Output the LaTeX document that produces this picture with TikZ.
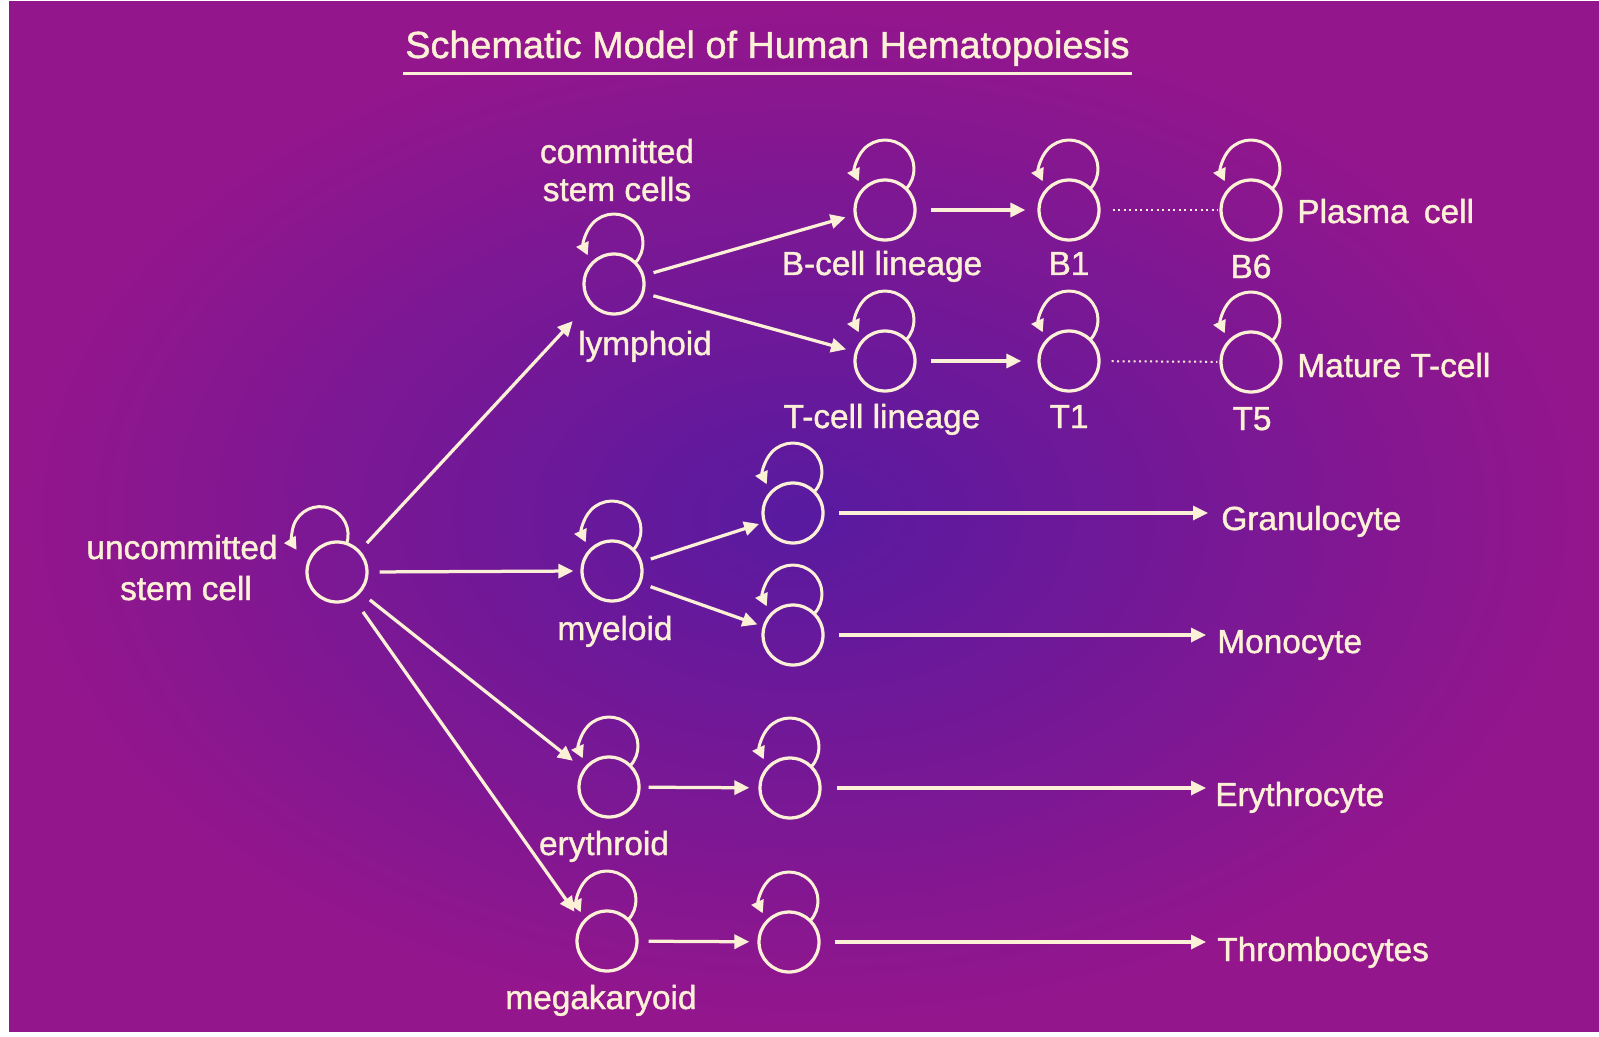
\documentclass[tikz,border=0pt]{standalone}
\usepackage{fontspec}
\setmainfont{Liberation Sans}[FakeBold=1.2]
\usetikzlibrary{arrows.meta,calc}
\definecolor{ink}{RGB}{252,240,214}
\definecolor{bgmag}{RGB}{148,22,140}
\definecolor{bgvio}{RGB}{88,26,160}
\newcommand{\mkcell}[3]{%
  \node[cellc] (#1) at (#2,-#3) {};
  \draw[loopln] (#1.center) ++(21.2,21.2) arc[start angle=-43,end angle=205,radius=29];}
\begin{document}
\begin{tikzpicture}[x=0.02cm,y=0.02cm,
  cellc/.style={circle,draw=ink,line width=0.065cm,minimum size=1.2cm,inner sep=0},
  loopln/.style={draw=ink,line width=0.06cm,-{Triangle[length=0.25cm,width=0.26cm]}},
  arr/.style={draw=ink,line width=0.065cm,-{Triangle[length=0.3cm,width=0.28cm]}},
  dotln/.style={draw=ink,line width=0.04cm,dash pattern=on 0.04cm off 0.07cm},
  lbl/.style={text=ink,inner sep=0,font=\fontsize{19}{23}\selectfont},
  ttl/.style={text=ink,inner sep=0,font=\fontsize{21.5}{26}\selectfont}]

% background
\fill[white] (0,0) rectangle (1599,-1037);
\useasboundingbox (0,0) rectangle (1599,-1037);
\shade[inner color=bgvio,outer color=bgmag] (9,-2) rectangle (1599,-1031);

% title
\node[ttl,anchor=base west] (title) at (405,-58) {Schematic Model of Human Hematopoiesis};
\draw[ink,line width=0.06cm] ($(title.base west)+(-2,-16)$) -- ($(title.base east)+(2,-16)$);

% cells
\node[cellc] (unc) at (337,-572) {};
\draw[loopln] (unc.center) ++(9.4,27.8) arc[start angle=-20,end angle=213,radius=28];
\mkcell{lym}{614}{284}
\mkcell{mye}{612}{571}
\mkcell{ery}{609}{787}
\mkcell{meg}{607}{941}
\mkcell{bc}{885}{210}
\mkcell{tc}{885}{361}
\mkcell{bone}{1069}{210}
\mkcell{tone}{1069}{361}
\mkcell{bsix}{1251}{210}
\mkcell{tfive}{1251}{362}
\mkcell{gr}{793}{513}
\mkcell{mo}{793}{635}
\mkcell{etwo}{790}{788}
\mkcell{mtwo}{789}{942}

% labels
\node[lbl,anchor=base] (tcom1) at (617,-163) {committed};
\node[lbl,anchor=base] (tcom2) at (617,-201) {stem cells};
\node[lbl,anchor=base] (tlym) at (645,-355) {lymphoid};
\node[lbl,anchor=base] (tbl) at (882,-275) {B-cell lineage};
\node[lbl,anchor=base] (tb1) at (1069,-275) {B1};
\node[lbl,anchor=base] (tb6) at (1251,-278) {B6};
\node[lbl,anchor=base west] (tpl) at (1297,-223) {Plasma\hspace{0.12cm} cell};
\node[lbl,anchor=base] (ttl2) at (882,-428) {T-cell lineage};
\node[lbl,anchor=base] (tt1) at (1069,-428) {T1};
\node[lbl,anchor=base] (tt5) at (1252,-430) {T5};
\node[lbl,anchor=base west] (tmat) at (1297,-377) {Mature T-cell};
\node[lbl,anchor=base] (tunc1) at (182,-559) {uncommitted};
\node[lbl,anchor=base] (tunc2) at (186,-600) {stem cell};
\node[lbl,anchor=base] (tmye) at (615,-640) {myeloid};
\node[lbl,anchor=base west] (tgran) at (1221,-530) {Granulocyte};
\node[lbl,anchor=base west] (tmono) at (1217,-653) {Monocyte};
\node[lbl,anchor=base] (tery) at (604,-855) {erythroid};
\node[lbl,anchor=base west] (terc) at (1215,-806) {Erythrocyte};
\node[lbl,anchor=base] (tmeg) at (601,-1009) {megakaryoid};
\node[lbl,anchor=base west] (tthr) at (1217,-961) {Thrombocytes};

% connectors
\draw[arr,shorten <=0.2cm,shorten >=0.48cm] (unc.43) -- (lym.218);
\draw[arr,shorten <=0.22cm,shorten >=0.14cm] (unc.0) -- (mye.180);
\draw[arr,shorten <=0.23cm,shorten >=0.26cm] (unc.-41) -- (ery.145);
\draw[arr,shorten <=0.32cm,shorten >=0.25cm] (unc.-58) -- (meg.143);
\draw[arr,shorten <=0.19cm,shorten >=0.17cm] (lym.16) -- (bc.189);
\draw[arr,shorten <=0.19cm,shorten >=0.18cm] (lym.-17) -- (tc.163);
\draw[arr,shorten <=0.28cm,shorten >=0.24cm] (bc) -- (bone);
\draw[arr,shorten <=0.28cm,shorten >=0.32cm] (tc) -- (tone);
\draw[dotln,shorten <=0.24cm,shorten >=0.04cm] (bone) -- (bsix);
\draw[dotln,shorten <=0.22cm,shorten >=0.04cm] (tone) -- (tfive);
\draw[arr,shorten <=0.18cm,shorten >=0.08cm] (mye.17) -- (gr.198);
\draw[arr,shorten <=0.2cm,shorten >=0.11cm] (mye.-23) -- (mo.164);
\draw[arr,shorten <=0.16cm,shorten >=0.18cm] (ery) -- (etwo);
\draw[arr,shorten <=0.2cm,shorten >=0.16cm] (meg) -- (mtwo);
\draw[arr,shorten <=0.28cm,shorten >=0.26cm] (gr.east) -- (gr.east -| tgran.west);
\draw[arr,shorten <=0.28cm,shorten >=0.22cm] (mo.east) -- (mo.east -| tmono.west);
\draw[arr,shorten <=0.3cm,shorten >=0.18cm] (etwo.east) -- (etwo.east -| terc.west);
\draw[arr,shorten <=0.28cm,shorten >=0.22cm] (mtwo.east) -- (mtwo.east -| tthr.west);
\end{tikzpicture}
\end{document}
